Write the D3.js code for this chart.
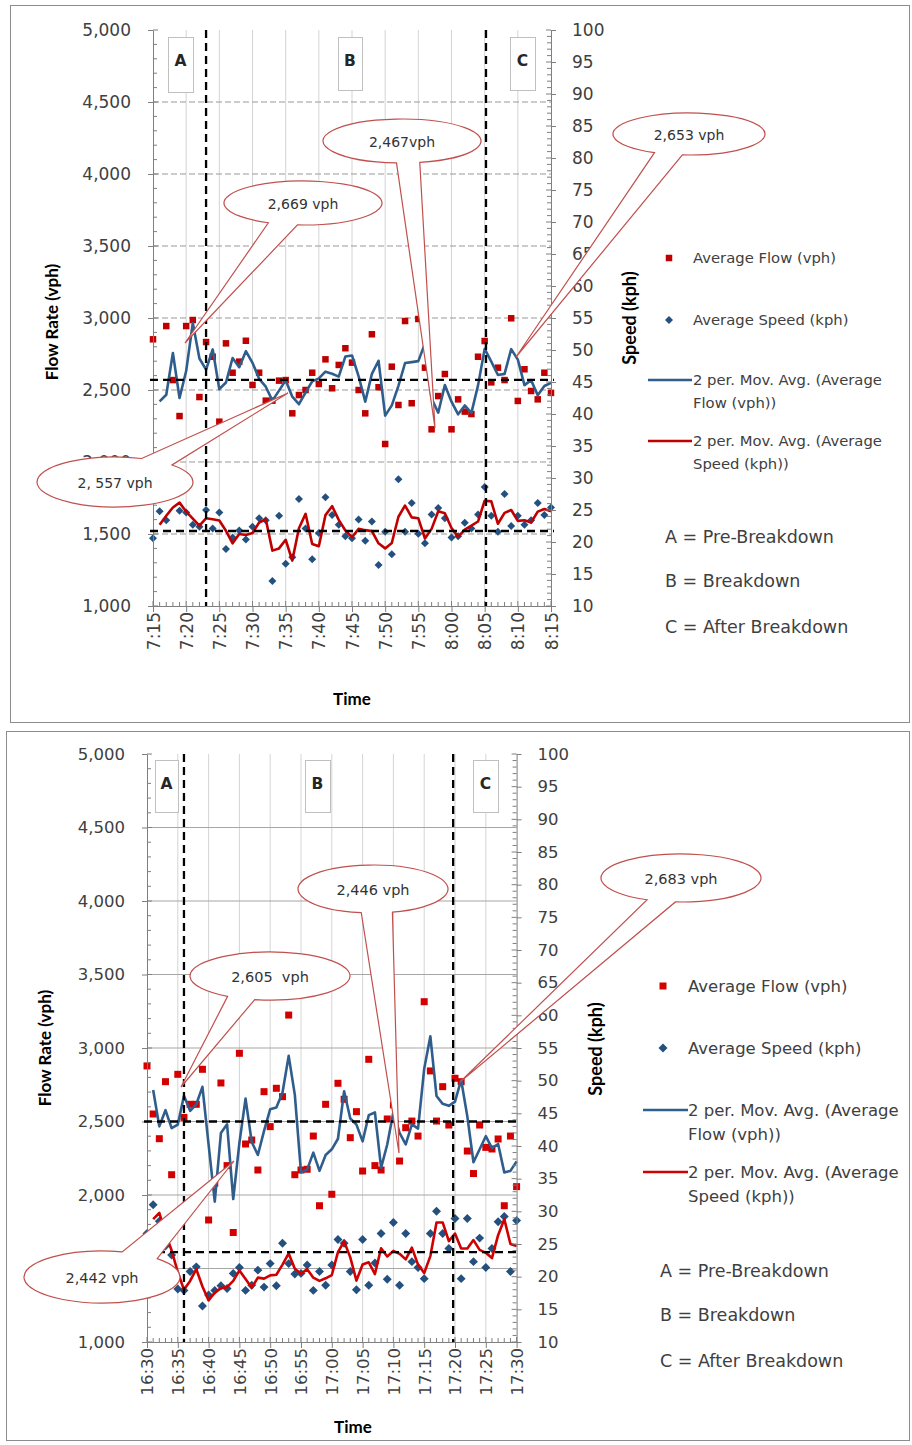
<!DOCTYPE html>
<html><head><meta charset="utf-8">
<script src="https://cdn.jsdelivr.net/npm/d3@7"></script>
<style>body{margin:0;background:#fff;} svg{display:block}</style>
</head><body><svg id="c" width="912" height="1445"></svg>
<script>
// ---------------- DATA ----------------
const flowTicks = [1000,1500,2000,2500,3000,3500,4000,4500,5000];
const speedTicks = [10,15,20,25,30,35,40,45,50,55,60,65,70,75,80,85,90,95,100];
const topTimes = ["7:15","7:20","7:25","7:30","7:35","7:40","7:45","7:50","7:55","8:00","8:05","8:10","8:15"];
const bottomTimes = ["16:30","16:35","16:40","16:45","16:50","16:55","17:00","17:05","17:10","17:15","17:20","17:25","17:30"];

// one value per minute (61 values)
const topFlow = [2852,1990,2944,2569,2319,2944,2986,2451,2833,2731,2280,
  2824,2620,2697,2842,2535,2620,2426,2426,2565,2569,
  2338,2465,2500,2620,2542,2713,2512,2674,2790,2690,
  2500,2338,2887,2519,2125,2662,2396,2979,2408,2993,
  2655,2227,2458,2611,2227,2435,2350,2333,2731,2840,
  2553,2655,2569,2998,2424,2644,2493,2435,2620,2480];
const topSpeed = [20.6,24.8,23.4,27.4,24.9,24.6,22.7,22.4,25.0,22.1,24.6,
  18.9,20.7,21.8,20.4,22.4,23.7,23.4,13.9,24.1,16.6,
  17.6,26.7,22.1,17.3,21.4,27.0,24.2,22.7,20.9,20.6,
  23.5,20.2,23.2,16.4,21.6,18.1,29.8,21.6,26.1,21.3,
  19.8,24.3,25.3,23.7,20.7,20.9,23.0,22.1,24.3,28.6,
  24.1,21.6,27.5,22.5,24.1,22.7,23.4,26.1,24.2,25.4];
const bottomFlow = [2878,2551,2383,2771,2138,2821,2528,2617,2617,2855,1830,
  2080,2762,2200,1745,2964,2347,2374,2170,2703,2465,
  2726,2669,3224,2138,2170,2175,2401,1927,2617,2005,
  2760,2651,2390,2567,2163,2923,2200,2170,2517,2613,
  2231,2458,2503,2401,3315,2844,2503,2737,2476,2794,
  2771,2299,2146,2476,2324,2313,2381,1927,2401,2057];
const bottomSpeed = [26.6,31.0,28.5,24.7,23.3,18.1,17.9,20.8,21.5,15.5,17.2,
  17.9,18.6,18.2,20.5,21.4,17.9,18.7,21.0,18.4,22.0,
  18.6,25.1,22.0,20.4,20.5,21.8,17.9,20.8,18.7,21.8,
  25.7,25.1,20.8,18.0,25.7,18.7,22.1,26.6,19.6,28.3,
  18.7,26.6,22.3,21.4,19.7,26.6,30.0,26.6,24.3,28.9,
  19.7,28.9,22.3,25.9,21.4,24.3,28.4,29.2,20.8,28.6];

// breakdown phase boundaries (minutes after start) and reference flow levels
const topBreakMinutes = [8, 50.2];
const topRefFlow = [2570, 1521];
const bottomBreakMinutes = [6, 49.7];
const bottomRefFlow = [2500, 1612];

const phaseLetters = ["A","B","C"];
const phaseLabels = ["A = Pre-Breakdown","B = Breakdown","C = After Breakdown"];
const legendLabels = [["Average Flow (vph)"],["Average Speed (kph)"],
  ["2 per. Mov. Avg. (Average","Flow (vph))"],["2 per. Mov. Avg. (Average","Speed (kph))"]];
const topCalloutTexts = ["2,669 vph","2,467vph","2,653 vph","2, 557 vph"];
const bottomCalloutTexts = ["2,605  vph","2,446 vph","2,683 vph","2,442 vph"];
// flow tick labels hidden beneath a callout in the original
const bottomCoveredFlowTicks = [1500];

// ---------------- LAYOUT ----------------
const svg = d3.select("#c");
const FONT = "DejaVu Sans, Verdana, sans-serif";
const TFONT = "Lato, 'Open Sans', sans-serif";

const topCfg = {
  frame:[10,5,899,717], left:153, right:551, top:30, bottom:606,
  times:topTimes, flow:topFlow, speed:topSpeed, breaks:topBreakMinutes, refFlow:topRefFlow, covered:[],
  gridDash:"6,3", gridColor:"#9a9a9a", tickFont:17, padL:17, padR:16,
  flowTitle:[52,322], speedTitle:[630,318], timeTitle:[352,699], titleFont:17,
  boxes:[[168,37,25,55],[338,37,24,53],[510,37,25,53]],
  legend:{mx:669, tx:693, lx1:648, lx2:692, ys:[258,320,380,441], gap:23, font:14.8, abcX:665, abcYs:[537,581,627], abcFont:17.5},
  sq:6.5, dia:32, flowColor:"#C00000", speedColor:"#24507F", maFlow:"#2F5D8C", maSpeed:"#C00000",
  callouts:[
    {cx:303,cy:203,rx:79,ry:22,a1:94,a2:116,tip:[185,343]},
    {cx:402,cy:141,rx:79,ry:22,a1:77,a2:94,tip:[435,428]},
    {cx:689,cy:134,rx:76,ry:21,a1:95,a2:117,tip:[516,357]},
    {cx:115,cy:482,rx:78,ry:25,a1:-70,a2:-43,tip:[288,393]}],
  calloutTexts:topCalloutTexts, calloutFont:14
};
const bottomCfg = {
  frame:[6,731,903,709], left:147, right:516.6, top:754, bottom:1342,
  times:bottomTimes, flow:bottomFlow, speed:bottomSpeed, breaks:bottomBreakMinutes, refFlow:bottomRefFlow, covered:bottomCoveredFlowTicks,
  gridDash:null, gridColor:"#a6a6a6", tickFont:16.5, padL:17, padR:16,
  flowTitle:[45,1048], speedTitle:[596,1049], timeTitle:[353,1427], titleFont:17,
  boxes:[[155,760,23,52],[305,760,25,52],[473,760,25,52]],
  legend:{mx:663, tx:688, lx1:643, lx2:688, ys:[986,1048,1110,1172], gap:24, font:16.5, abcX:660, abcYs:[1271,1315,1361], abcFont:17.5},
  sq:7, dia:40, flowColor:"#D40000", speedColor:"#24507F", maFlow:"#2F5D8C", maSpeed:"#D00000",
  callouts:[
    {cx:270,cy:976,rx:80,ry:24,a1:101,a2:122,tip:[181,1087]},
    {cx:373,cy:889,rx:75,ry:24,a1:75,a2:99,tip:[399,1153]},
    {cx:681,cy:878,rx:80,ry:24,a1:94,a2:115,tip:[460,1082]},
    {cx:102,cy:1277,rx:78,ry:26,a1:-75,a2:-45,tip:[234,1161]}],
  calloutTexts:bottomCalloutTexts, calloutFont:14.5
};

function movingAvg(v){ return v.map((d,i)=> i===0 ? null : (v[i-1]+d)/2); }

function drawChart(o){
  const g = svg.append("g");
  const x = d3.scaleLinear().domain([0,60]).range([o.left,o.right]);
  const yF = d3.scaleLinear().domain([1000,5000]).range([o.bottom,o.top]);
  const yS = d3.scaleLinear().domain([10,100]).range([o.bottom,o.top]);
  const axisColor = "#7f7f7f";

  g.append("rect").attr("x",o.frame[0]+0.5).attr("y",o.frame[1]+0.5).attr("width",o.frame[2]).attr("height",o.frame[3])
    .attr("fill","#fff").attr("stroke","#8c8c8c").attr("stroke-width",1);

  // gridlines
  g.selectAll(".vg").data(d3.range(5,60,5)).join("line")
    .attr("x1",d=>x(d)).attr("x2",d=>x(d)).attr("y1",o.top).attr("y2",o.bottom)
    .attr("stroke","#d4d4d4").attr("stroke-width",1);
  g.selectAll(".hg").data(flowTicks.filter(d=>d>1000 && d<5000)).join("line")
    .attr("x1",o.left).attr("x2",o.right).attr("y1",d=>yF(d)).attr("y2",d=>yF(d))
    .attr("stroke",o.gridColor).attr("stroke-width",1.1).attr("stroke-dasharray",o.gridDash);

  // markers
  g.selectAll(".fl").data(o.flow).join("rect")
    .attr("x",(d,i)=>x(i)-o.sq/2).attr("y",d=>yF(d)-o.sq/2).attr("width",o.sq).attr("height",o.sq)
    .attr("fill",o.flowColor);
  const diamond = d3.symbol().type(d3.symbolSquare).size(o.dia);
  g.selectAll(".sp").data(o.speed).join("path")
    .attr("d",diamond).attr("transform",(d,i)=>`translate(${x(i)},${yS(d)}) rotate(45)`)
    .attr("fill",o.speedColor);

  // moving averages
  const maF = movingAvg(o.flow), maS = movingAvg(o.speed);
  const lineF = d3.line().defined(d=>d!==null).x((d,i)=>x(i)).y(d=>yF(d));
  const lineS = d3.line().defined(d=>d!==null).x((d,i)=>x(i)).y(d=>yS(d));
  g.append("path").attr("d",lineF(maF)).attr("fill","none").attr("stroke",o.maFlow).attr("stroke-width",2.6).attr("stroke-linejoin","round");
  g.append("path").attr("d",lineS(maS)).attr("fill","none").attr("stroke",o.maSpeed).attr("stroke-width",2.6).attr("stroke-linejoin","round");

  // axes
  const axL = g.append("g").attr("transform",`translate(${o.left},0)`)
    .call(d3.axisLeft(yF).tickValues(flowTicks).tickFormat(d=>o.covered.includes(d)?"":d3.format(",")(d)).tickSizeInner(5).tickSizeOuter(0).tickPadding(o.padL));
  const axR = g.append("g").attr("transform",`translate(${o.right},0)`)
    .call(d3.axisRight(yS).tickValues(speedTicks).tickSizeInner(5).tickSizeOuter(0).tickPadding(o.padR));
  const axB = g.append("g").attr("transform",`translate(0,${o.bottom})`)
    .call(d3.axisBottom(x).tickValues(d3.range(0,61,5)).tickFormat((d,i)=>o.times[i]).tickSizeInner(6).tickSizeOuter(0));
  [axL,axR,axB].forEach(a=>{
    a.select(".domain").attr("stroke",axisColor);
    a.selectAll("line").attr("stroke",axisColor);
    a.selectAll("text").attr("font-family",FONT).attr("font-size",o.tickFont).attr("fill","#404040");
  });
  axB.selectAll("text").attr("transform","rotate(-90)").attr("x",-6).attr("y",0).attr("dy","0.36em").style("text-anchor","end");
  // inner parts of major ticks & minor ticks
  g.selectAll(".mlin").data(d3.range(1000,5001,100)).join("line")
    .attr("x1",o.left).attr("x2",d=>o.left+(d%500===0?5:4)).attr("y1",d=>yF(d)).attr("y2",d=>yF(d)).attr("stroke",axisColor);
  g.selectAll(".mrin").data(d3.range(10,101,1)).join("line")
    .attr("x1",d=>o.right-(d%5===0?5:4)).attr("x2",o.right).attr("y1",d=>yS(d)).attr("y2",d=>yS(d)).attr("stroke",axisColor);
  g.selectAll(".mbin").data(d3.range(0,61,1)).join("line")
    .attr("x1",d=>x(d)).attr("x2",d=>x(d)).attr("y1",o.bottom).attr("y2",d=>o.bottom-(d%5===0?5:4)).attr("stroke",axisColor);

  // axis titles
  g.append("text").attr("transform",`translate(${o.flowTitle[0]},${o.flowTitle[1]}) rotate(-90)`)
    .attr("text-anchor","middle").attr("dy","0.36em").attr("font-family",TFONT).attr("font-weight","bold")
    .attr("font-size",o.titleFont).attr("fill","#000").text("Flow Rate (vph)");
  g.append("text").attr("transform",`translate(${o.speedTitle[0]},${o.speedTitle[1]}) rotate(-90)`)
    .attr("text-anchor","middle").attr("dy","0.36em").attr("font-family",TFONT).attr("font-weight","bold")
    .attr("font-size",o.titleFont+1).attr("fill","#000").text("Speed (kph)");
  g.append("text").attr("x",o.timeTitle[0]).attr("y",o.timeTitle[1]).attr("dy","0.36em")
    .attr("text-anchor","middle").attr("font-family",TFONT).attr("font-weight","bold")
    .attr("font-size",o.titleFont).attr("fill","#000").text("Time");

  // legend
  const L = o.legend;
  g.append("rect").attr("x",L.mx-o.sq/2).attr("y",L.ys[0]-o.sq/2).attr("width",o.sq).attr("height",o.sq).attr("fill",o.flowColor);
  g.append("path").attr("d",diamond).attr("transform",`translate(${L.mx},${L.ys[1]}) rotate(45)`).attr("fill",o.speedColor);
  g.append("line").attr("x1",L.lx1).attr("x2",L.lx2).attr("y1",L.ys[2]).attr("y2",L.ys[2]).attr("stroke",o.maFlow).attr("stroke-width",2.6);
  g.append("line").attr("x1",L.lx1).attr("x2",L.lx2).attr("y1",L.ys[3]).attr("y2",L.ys[3]).attr("stroke",o.maSpeed).attr("stroke-width",2.6);
  legendLabels.forEach((lines,k)=>{
    lines.forEach((t,j)=>{
      g.append("text").attr("x",L.tx).attr("y",L.ys[k]+j*L.gap).attr("dy","0.36em")
        .attr("font-family",FONT).attr("font-size",L.font).attr("fill","#404040").text(t);
    });
  });
  phaseLabels.forEach((t,k)=>{
    g.append("text").attr("x",L.abcX).attr("y",L.abcYs[k]).attr("dy","0.36em")
      .attr("font-family",FONT).attr("font-size",L.abcFont).attr("fill","#404040").text(t);
  });

  // breakdown reference lines
  g.selectAll(".bv").data(o.breaks).join("line")
    .attr("x1",d=>x(d)).attr("x2",d=>x(d)).attr("y1",o.top).attr("y2",o.bottom)
    .attr("stroke","#000").attr("stroke-width",2.3).attr("stroke-dasharray","8,5");
  g.selectAll(".bh").data(o.refFlow).join("line")
    .attr("x1",o.left-3).attr("x2",o.right+3).attr("y1",d=>yF(d)).attr("y2",d=>yF(d))
    .attr("stroke","#000").attr("stroke-width",2.3).attr("stroke-dasharray","8,5");

  // phase boxes
  o.boxes.forEach((b,k)=>{
    g.append("rect").attr("x",b[0]+0.5).attr("y",b[1]+0.5).attr("width",b[2]).attr("height",b[3])
      .attr("fill","#fff").attr("stroke","#c0c0c0");
    g.append("text").attr("x",b[0]+b[2]/2).attr("y",b[1]+23).attr("dy","0.36em").attr("text-anchor","middle")
      .attr("font-family",FONT).attr("font-weight","bold").attr("font-size",15.5).attr("fill","#262626").text(phaseLetters[k]);
  });

  // callouts
  o.callouts.forEach((c,k)=>{
    const P = a => [c.cx + c.rx*Math.cos(a*Math.PI/180), c.cy + c.ry*Math.sin(a*Math.PI/180)];
    const p1 = P(c.a1), p2 = P(c.a2);
    const d = `M${p2[0]},${p2[1]} A${c.rx},${c.ry} 0 1 1 ${p1[0]},${p1[1]} L${c.tip[0]},${c.tip[1]} Z`;
    g.append("path").attr("d",d).attr("fill","#fff").attr("stroke","#C0504D").attr("stroke-width",1.2);
    g.append("text").attr("x",c.cx).attr("y",c.cy+1).attr("dy","0.36em").attr("text-anchor","middle")
      .style("white-space","pre").attr("font-family",FONT).attr("font-size",o.calloutFont).attr("fill","#333")
      .text(o.calloutTexts[k]);
  });
}

drawChart(topCfg);
drawChart(bottomCfg);
</script>
</body></html>
